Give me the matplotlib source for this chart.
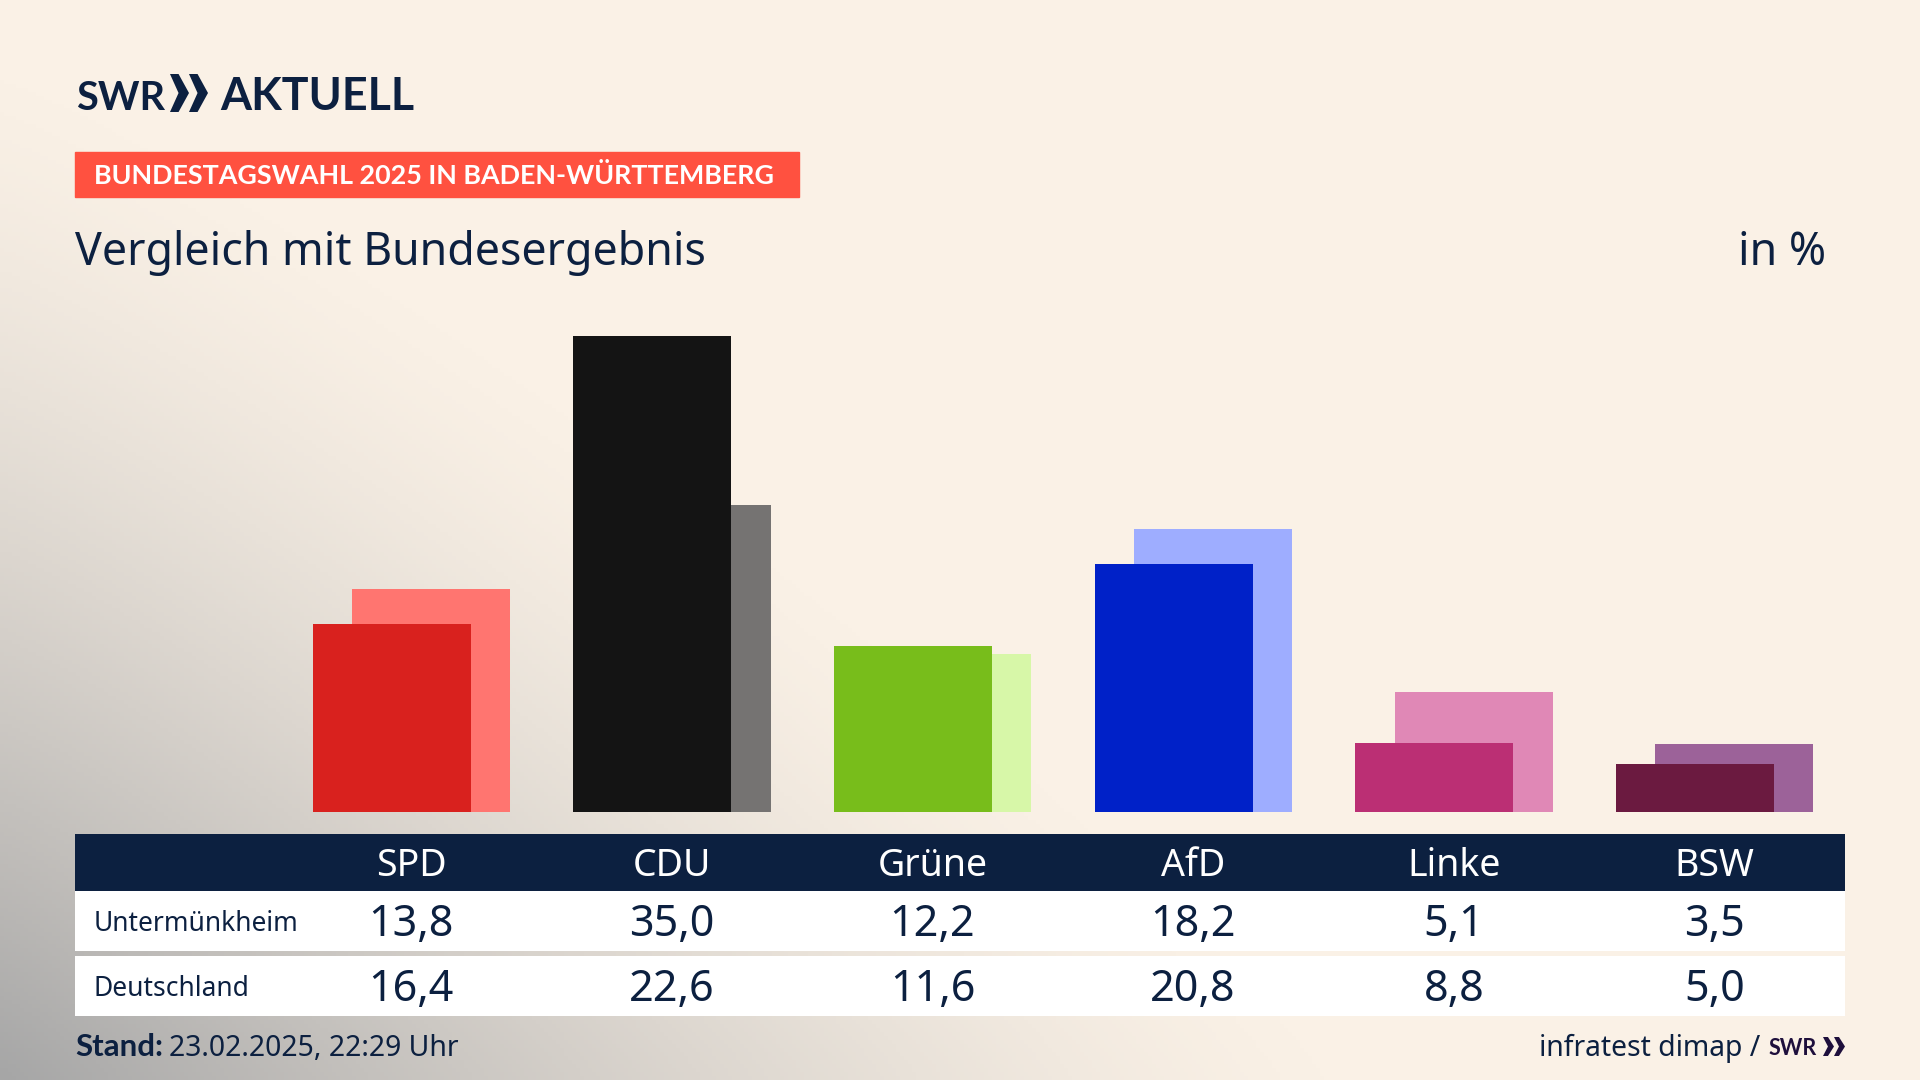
import numpy as np
import matplotlib
matplotlib.use("Agg")
import matplotlib.pyplot as plt
from matplotlib.colors import LinearSegmentedColormap
from matplotlib.patches import Polygon, Rectangle

parties = ["SPD", "CDU", "Grüne", "AfD", "Linke", "BSW"]
region_values = [13.8, 35.0, 12.2, 18.2, 5.1, 3.5]
national_values = [16.4, 22.6, 11.6, 20.8, 8.8, 5.0]
region_colors = ["#D9211E", "#141414", "#78BD1B", "#0021C8", "#BB2F74", "#6B1A40"]
national_colors = ["#FF7570", "#757372", "#D7F7A8", "#9EADFF", "#E088B6", "#9C6299"]
row_names = ["Untermünkheim", "Deutschland"]

NAVY = "#0C2040"
W, H = 1920, 1080
STEP = 260.7
BOLD = ["Lato", "Liberation Sans", "DejaVu Sans"]

plt.rcParams["font.family"] = ["Noto Sans", "DejaVu Sans"]


def fmt(v):
    return f"{v:.1f}".replace(".", ",")


def chevrons(axis, xs, top, bottom, w, color):
    mid = (top + bottom) / 2
    for x0 in xs:
        axis.add_patch(Polygon([(x0, top), (x0 + w * 0.45, top), (x0 + w, mid), (x0 + w * 0.45, bottom),
                                (x0, bottom), (x0 + w * 0.45, mid)], closed=True, color=color, lw=0, zorder=3))


fig = plt.figure(figsize=(19.2, 10.8), dpi=100)

# background and all the furniture, axes in pixels
bg = fig.add_axes([0, 0, 1, 1])
bg.set_xlim(0, W)
bg.set_ylim(H, 0)
bg.axis("off")

yy, xx = np.mgrid[0:H:270j, 0:W:480j]
p = 1.15
dist = ((xx / 1350) ** p + ((H - yy) / 1020) ** p) ** (1 / p)
shade = np.clip(1 - dist, 0, 1) ** 1.4
cmap = LinearSegmentedColormap.from_list("bg", ["#FAF1E6", "#A6A6A6"])
bg.imshow(shade, extent=[0, W, H, 0], cmap=cmap, vmin=0, vmax=1, aspect="auto", zorder=0)

# logo
bg.text(76, 110, "SWR", fontsize=28.5, fontweight="bold", family=BOLD, color=NAVY, va="baseline", ha="left", zorder=3)
chevrons(bg, (170, 189), 74, 112, 19, NAVY)
bg.text(220, 110, "AKTUELL", fontsize=32.2, fontweight="bold", family=BOLD, color=NAVY, va="baseline", ha="left", zorder=3)

# red tag
bg.add_patch(Rectangle((75, 152), 724, 45, color="#FF5140", zorder=2))
bg.text(94, 176, "BUNDESTAGSWAHL 2025 IN BADEN-WÜRTTEMBERG", fontsize=19.4, fontweight="bold", family=BOLD,
        color="white", va="center", ha="left", zorder=3)

bg.text(75, 253, "Vergleich mit Bundesergebnis", fontsize=32.2, color=NAVY, va="center", ha="left", zorder=3)
bg.text(1826, 253, "in %", fontsize=32.2, color=NAVY, va="center", ha="right", zorder=3)

# table
bg.add_patch(Rectangle((75, 834), 1770, 57, color=NAVY, lw=0, zorder=2))
bg.add_patch(Rectangle((75, 891), 1770, 60, color="white", lw=0, zorder=2))
bg.add_patch(Rectangle((75, 956), 1770, 60, color="white", lw=0, zorder=2))
centers = [411 + STEP * i for i in range(len(parties))]
for c, pt, a, b in zip(centers, parties, region_values, national_values):
    bg.text(c, 866, pt, fontsize=27, color="white", ha="center", va="center", zorder=3)
    bg.text(c, 925, fmt(a), fontsize=31, color=NAVY, ha="center", va="center", zorder=3)
    bg.text(c, 990, fmt(b), fontsize=31, color=NAVY, ha="center", va="center", zorder=3)
bg.text(94, 924, row_names[0], fontsize=19, color=NAVY, ha="left", va="center", zorder=3)
bg.text(94, 989, row_names[1], fontsize=19, color=NAVY, ha="left", va="center", zorder=3)

# footer
bg.text(75, 1056, "Stand:", fontsize=22.5, fontweight="bold", family=BOLD, color=NAVY, ha="left", va="baseline", zorder=3)
bg.text(169, 1056, "23.02.2025, 22:29 Uhr", fontsize=20.4, color=NAVY, ha="left", va="baseline", zorder=3)
bg.text(1760, 1056, "infratest dimap /", fontsize=20.4, color=NAVY, ha="right", va="baseline", zorder=3)
bg.text(1769, 1055, "SWR", fontsize=15.5, fontweight="bold", family=BOLD, color="#1E0F3C", ha="left", va="baseline", zorder=3)
chevrons(bg, (1823, 1834), 1037, 1056, 11, "#1E0F3C")

# bars
ax = fig.add_axes([75 / W, 1 - 812 / H, (1845 - 75) / W, (812 - 270) / H])
ax.patch.set_alpha(0)
x = np.arange(len(parties))
ax.bar(x + 0.076, national_values, width=0.606, color=national_colors, zorder=1)
ax.bar(x - 0.0745, region_values, width=0.606, color=region_colors, zorder=2)
ax.set_xlim((75 - 411) / STEP, (1845 - 411) / STEP)
ax.set_ylim(0, (812 - 270) / 13.6)
ax.axis("off")

fig.savefig("out.png", dpi=100)
